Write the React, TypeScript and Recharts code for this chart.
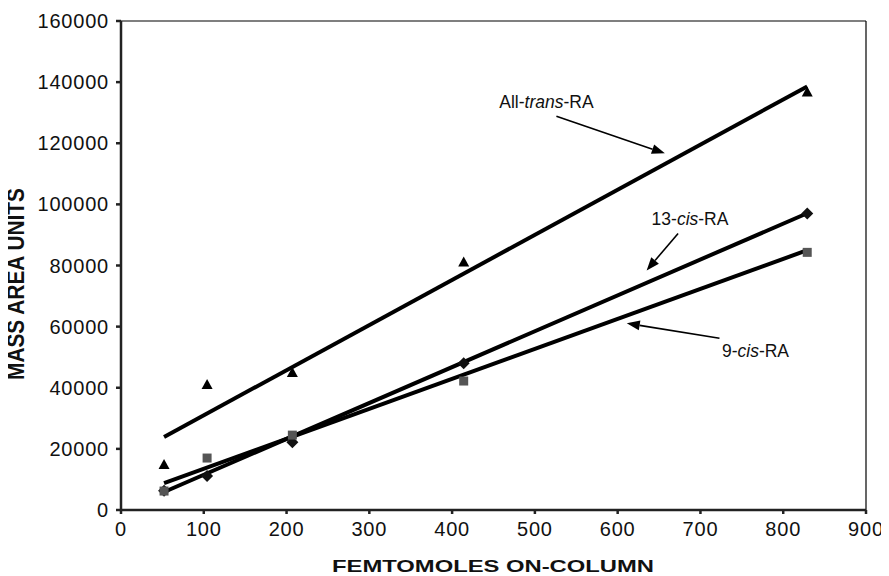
import React from "react";
import {
  ComposedChart,
  Line,
  Scatter,
  XAxis,
  YAxis,
  ReferenceLine,
  ReferenceDot,
} from "recharts";

// femtomoles on-column vs mass area units
const allTransPts = [
  { x: 52, y: 14700 },
  { x: 104, y: 40900 },
  { x: 207, y: 44800 },
  { x: 414, y: 81000 },
  { x: 829, y: 136600 },
];
const cis13Pts = [
  { x: 52, y: 6300 },
  { x: 104, y: 11100 },
  { x: 207, y: 22200 },
  { x: 414, y: 48000 },
  { x: 829, y: 97000 },
];
const cis9Pts = [
  { x: 52, y: 6200 },
  { x: 104, y: 17000 },
  { x: 207, y: 24500 },
  { x: 414, y: 42200 },
  { x: 829, y: 84300 },
];

// fitted lines, endpoints
const allTransFit = [
  { x: 52, y: 23900 },
  { x: 829, y: 138600 },
];
const cis13Fit = [
  { x: 52, y: 5900 },
  { x: 829, y: 97100 },
];
const cis9Fit = [
  { x: 52, y: 8800 },
  { x: 829, y: 85000 },
];

const xTicks = [0, 100, 200, 300, 400, 500, 600, 700, 800, 900];
const yTicks = [0, 20000, 40000, 60000, 80000, 100000, 120000, 140000, 160000];

const labels = [
  { x: 457, y: 131400, pre: "All-", it: "trans", post: "-RA" },
  { x: 641, y: 93100, pre: "13-", it: "cis", post: "-RA" },
  { x: 726, y: 50000, pre: "9-", it: "cis", post: "-RA" },
];
const arrows = [
  { x1: 526, y1: 128800, x2: 657, y2: 116700 },
  { x1: 673, y1: 90500, x2: 635, y2: 78400 },
  { x1: 723, y1: 56200, x2: 611, y2: 61100 },
];

const FONT = "'Liberation Sans', Arial, Helvetica, sans-serif";
const tickStyle = { fill: "#111", fontSize: 20, fontFamily: FONT, letterSpacing: 0.8 };

const Triangle = (p: any) => (
  <polygon
    points={`${p.cx},${p.cy - 6} ${p.cx - 5.5},${p.cy + 4} ${p.cx + 5.5},${p.cy + 4}`}
    fill="#000"
  />
);
const Diamond = (p: any) => (
  <polygon
    points={`${p.cx},${p.cy - 6} ${p.cx + 6},${p.cy} ${p.cx},${p.cy + 6} ${p.cx - 6},${p.cy}`}
    fill="#111"
  />
);
const Square = (p: any) => (
  <rect x={p.cx - 4.5} y={p.cy - 4.5} width={9} height={9} fill="#555" />
);

const Arrow = (p: any) => {
  const { x1, y1, x2, y2 } = p;
  const a = Math.atan2(y2 - y1, x2 - x1);
  const len = 13;
  const w = 5;
  const bx = x2 - len * Math.cos(a);
  const by = y2 - len * Math.sin(a);
  const nx = -Math.sin(a) * w;
  const ny = Math.cos(a) * w;
  return (
    <g>
      <line x1={x1} y1={y1} x2={bx} y2={by} stroke="#000" strokeWidth={1.6} />
      <polygon
        points={`${x2},${y2} ${bx + nx},${by + ny} ${bx - nx},${by - ny}`}
        fill="#000"
      />
    </g>
  );
};

export default function App() {
  return (
    <div style={{ marginLeft: -8, marginTop: -8, background: "#fff" }}>
      <ComposedChart
        width={889}
        height={576}
        margin={{ top: 21, right: 23, bottom: 0, left: 0 }}
      >
        <XAxis
          type="number"
          dataKey="x"
          domain={[0, 900]}
          ticks={xTicks}
          interval={0}
          allowDataOverflow
          stroke="#222"
          strokeWidth={2.5}
          tickSize={4}
          tickMargin={8}
          tick={tickStyle}
          height={66}
          label={{
            content: () => (
              <text
                x={493}
                y={572}
                textAnchor="middle"
                fontFamily={FONT}
                fontWeight="bold"
                fontSize={17}
                textLength={322}
                lengthAdjust="spacingAndGlyphs"
                fill="#111"
              >
                FEMTOMOLES ON-COLUMN
              </text>
            ),
          }}
        />
        <YAxis
          type="number"
          dataKey="y"
          domain={[0, 160000]}
          ticks={yTicks}
          interval={0}
          allowDataOverflow
          stroke="#222"
          strokeWidth={2.5}
          tickSize={5}
          tickMargin={7}
          tick={tickStyle}
          width={121}
          label={{
            content: () => (
              <text
                x={15.5}
                y={284}
                transform="rotate(-90, 15.5, 284)"
                textAnchor="middle"
                dominantBaseline="central"
                fontFamily={FONT}
                fontWeight="bold"
                fontSize={24}
                textLength={192}
                lengthAdjust="spacingAndGlyphs"
                fill="#111"
              >
                MASS AREA UNITS
              </text>
            ),
          }}
        />
        <ReferenceLine y={160000} stroke="#000" strokeWidth={1.2} />
        <ReferenceLine x={900} stroke="#000" strokeWidth={1.2} />

        <Line data={allTransFit} dataKey="y" stroke="#000" strokeWidth={4} dot={false} isAnimationActive={false} />
        <Line data={cis13Fit} dataKey="y" stroke="#000" strokeWidth={4} dot={false} isAnimationActive={false} />
        <Line data={cis9Fit} dataKey="y" stroke="#000" strokeWidth={4} dot={false} isAnimationActive={false} />

        <Scatter data={allTransPts} dataKey="y" shape={Triangle} isAnimationActive={false} />
        <Scatter data={cis13Pts} dataKey="y" shape={Diamond} isAnimationActive={false} />
        <Scatter data={cis9Pts} dataKey="y" shape={Square} isAnimationActive={false} />

        {arrows.map((a, i) => (
          <ReferenceLine
            key={"a" + i}
            segment={[
              { x: a.x1, y: a.y1 },
              { x: a.x2, y: a.y2 },
            ]}
            shape={Arrow}
          />
        ))}
        {labels.map((l, i) => (
          <ReferenceDot
            key={"l" + i}
            x={l.x}
            y={l.y}
            r={1}
            shape={(p: any) => (
              <text x={p.cx} y={p.cy} fontFamily={FONT} fontSize={17.5} fill="#111">
                {l.pre}
                <tspan fontStyle="italic">{l.it}</tspan>
                {l.post}
              </text>
            )}
          />
        ))}
      </ComposedChart>
    </div>
  );
}
